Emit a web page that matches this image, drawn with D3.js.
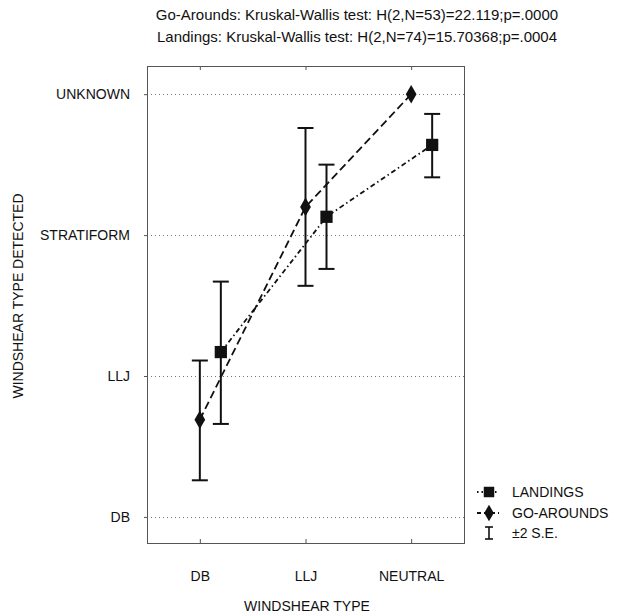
<!DOCTYPE html>
<html>
<head>
<meta charset="utf-8">
<script src="https://cdn.jsdelivr.net/npm/d3@7"></script>
<style>
  body { margin: 0; background: #fff; }
  text { font-family: "Liberation Sans", Arial, sans-serif; fill: #111; }
</style>
</head>
<body>
<div id="chart"></div>
<script>
// categories on both axes
const windshearTypes = ["DB", "LLJ", "NEUTRAL"];
const detectedTypes = ["DB", "LLJ", "STRATIFORM", "UNKNOWN"];
const titleLines = [
  "Go-Arounds: Kruskal-Wallis test: H(2,N=53)=22.119;p=.0000",
  "Landings: Kruskal-Wallis test: H(2,N=74)=15.70368;p=.0004"
];

// means and +-2 S.E. (1 = DB ... 4 = UNKNOWN)
const landingsMean = [2.17, 3.13, 3.64];
const landingsLow = [1.66, 2.76, 3.41];
const landingsHigh = [2.67, 3.50, 3.86];
const goAroundsMean = [1.69, 3.20, 4.00];
const goAroundsLow = [1.26, 2.64, 4.00];
const goAroundsHigh = [2.11, 3.76, 4.00];

const width = 624, height = 616;
const MARGIN = { top: 66, right: 160, bottom: 73, left: 147 };

const svg = d3.select("#chart").append("svg")
  .attr("width", width)
  .attr("height", height);

const x = d3.scaleLinear()
  .domain([0.5, 3.5])
  .range([MARGIN.left, width - MARGIN.right]);
const y = d3.scaleLinear()
  .domain([0.815, 4.2])
  .range([height - MARGIN.bottom, MARGIN.top]);

// gridlines
svg.append("g")
  .selectAll("line")
  .data(detectedTypes)
  .join("line")
  .attr("x1", MARGIN.left)
  .attr("x2", width - MARGIN.right)
  .attr("y1", (d, i) => Math.round(y(i + 1)) + 0.5)
  .attr("y2", (d, i) => Math.round(y(i + 1)) + 0.5)
  .attr("stroke", "#777")
  .attr("stroke-dasharray", "1,3");

// frame
svg.append("rect")
  .attr("x", MARGIN.left + 0.5)
  .attr("y", MARGIN.top + 0.5)
  .attr("width", width - MARGIN.left - MARGIN.right)
  .attr("height", height - MARGIN.top - MARGIN.bottom)
  .attr("fill", "none")
  .attr("stroke", "#555");

// axes
const yAxis = d3.axisLeft(y)
  .tickValues(detectedTypes.map((d, i) => i + 1))
  .tickFormat((d, i) => detectedTypes[i])
  .tickSize(3)
  .tickPadding(14);
svg.append("g")
  .attr("transform", `translate(${MARGIN.left},0)`)
  .call(yAxis)
  .call(g => g.select(".domain").remove())
  .call(g => g.selectAll("line").attr("stroke", "#555"))
  .call(g => g.selectAll("text").style("font-size", "14px").attr("fill", "#111"));

const xAxis = d3.axisBottom(x)
  .tickValues(windshearTypes.map((d, i) => i + 1))
  .tickFormat((d, i) => windshearTypes[i])
  .tickSize(-4)
  .tickPadding(28);
svg.append("g")
  .attr("transform", `translate(0,${height - MARGIN.bottom})`)
  .call(xAxis)
  .call(g => g.select(".domain").remove())
  .call(g => g.selectAll("line").attr("stroke", "#555"))
  .call(g => g.selectAll("text").style("font-size", "14px").attr("fill", "#111"));

svg.append("g")
  .attr("transform", `translate(0,${MARGIN.top})`)
  .call(d3.axisTop(x).tickValues([1, 2, 3]).tickFormat("").tickSize(-4))
  .call(g => g.select(".domain").remove())
  .call(g => g.selectAll("line").attr("stroke", "#555"));

// titles
svg.append("g")
  .selectAll("text")
  .data(titleLines)
  .join("text")
  .attr("x", 357)
  .attr("y", (d, i) => 20 + i * 22)
  .attr("text-anchor", "middle")
  .style("font-size", "15px")
  .text(d => d);

svg.append("text")
  .attr("transform", "translate(23,296) rotate(-90)")
  .attr("text-anchor", "middle")
  .style("font-size", "14px")
  .text("WINDSHEAR TYPE DETECTED");

svg.append("text")
  .attr("x", 307)
  .attr("y", 611)
  .attr("text-anchor", "middle")
  .style("font-size", "14px")
  .text("WINDSHEAR TYPE");

// series
const series = [
  { name: "LANDINGS", mean: landingsMean, low: landingsLow, high: landingsHigh,
    dx: 21, dash: "5,3,1.5,3", symbol: d3.symbolSquare, size: 150 },
  { name: "GO-AROUNDS", mean: goAroundsMean, low: goAroundsLow, high: goAroundsHigh,
    dx: 0, dash: "8,4", symbol: d3.symbolDiamond, size: 100 }
];

const line = d3.line()
  .x(d => d[0])
  .y(d => d[1]);

series.forEach(s => {
  const pts = s.mean.map((m, i) => [x(i + 1) + s.dx, y(m)]);
  const g = svg.append("g");

  g.append("path")
    .attr("d", line(pts))
    .attr("fill", "none")
    .attr("stroke", "#111")
    .attr("stroke-width", 1.8)
    .attr("stroke-dasharray", s.dash);

  // error bars
  s.mean.forEach((m, i) => {
    if (s.high[i] - s.low[i] < 0.01) return;
    const cx = x(i + 1) + s.dx;
    const eb = g.append("g").attr("stroke", "#111").attr("stroke-width", 2);
    eb.append("line").attr("x1", cx).attr("x2", cx).attr("y1", y(s.low[i])).attr("y2", y(s.high[i]));
    eb.append("line").attr("x1", cx - 8).attr("x2", cx + 8).attr("y1", y(s.low[i])).attr("y2", y(s.low[i]));
    eb.append("line").attr("x1", cx - 8).attr("x2", cx + 8).attr("y1", y(s.high[i])).attr("y2", y(s.high[i]));
  });

  g.selectAll(".mark")
    .data(pts)
    .join("path")
    .attr("class", "mark")
    .attr("transform", d => `translate(${d[0]},${d[1]})`)
    .attr("d", d3.symbol(s.symbol, s.size))
    .attr("fill", "#111");
});

// legend
const legend = svg.append("g").attr("transform", "translate(477,492)");
series.forEach((s, i) => {
  const row = legend.append("g").attr("transform", `translate(0,${i * 21})`);
  row.append("line")
    .attr("x1", 0).attr("x2", 22)
    .attr("stroke", "#111").attr("stroke-width", 1.8)
    .attr("stroke-dasharray", i === 0 ? "1.5,3" : "4,3");
  row.append("path")
    .attr("transform", "translate(12,0)")
    .attr("d", d3.symbol(s.symbol, i === 0 ? 110 : 80))
    .attr("fill", "#111");
  row.append("text")
    .attr("x", 35).attr("dy", "0.35em")
    .style("font-size", "14px")
    .text(s.name);
});
const seRow = legend.append("g").attr("transform", "translate(0,41)").attr("stroke", "#111").attr("stroke-width", 1.6);
seRow.append("line").attr("x1", 12).attr("x2", 12).attr("y1", -6).attr("y2", 6);
seRow.append("line").attr("x1", 8).attr("x2", 16).attr("y1", -6).attr("y2", -6);
seRow.append("line").attr("x1", 8).attr("x2", 16).attr("y1", 6).attr("y2", 6);
legend.append("text")
  .attr("x", 35).attr("y", 41).attr("dy", "0.35em")
  .style("font-size", "14px")
  .text("±2 S.E.");
</script>
</body>
</html>
